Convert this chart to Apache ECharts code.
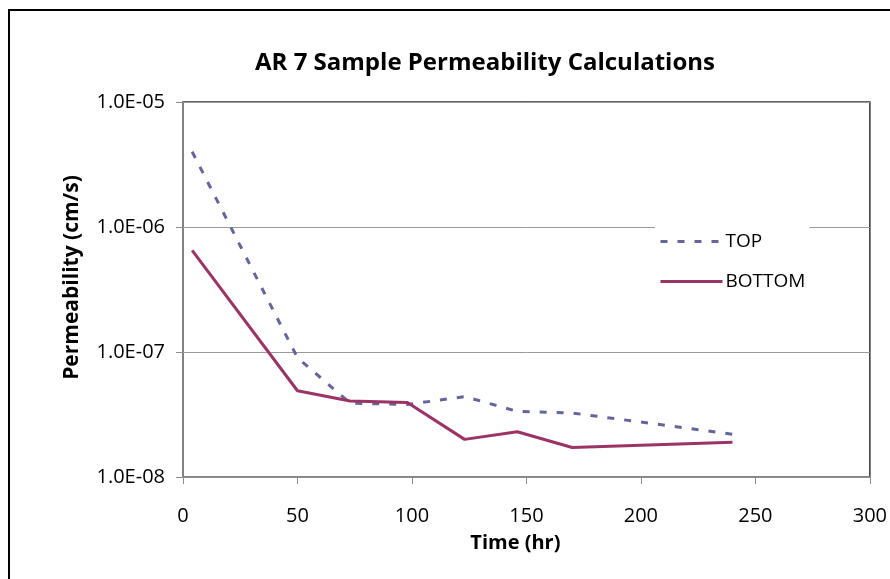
<!DOCTYPE html>
<html>
<head>
<meta charset="utf-8">
<script src="https://cdn.jsdelivr.net/npm/echarts@6/dist/echarts.min.js"></script>
<style>
  html, body { margin: 0; padding: 0; background: #fff; }
  #chart { width: 890px; height: 579px; }
</style>
</head>
<body>
<div id="chart"></div>
<script>
// time (hr) of each reading
const times = [4, 50, 73, 98, 123, 146, 170, 240]
// permeability (cm/s)
const topValues = [4.0e-6, 9.0e-8, 3.9e-8, 3.8e-8, 4.4e-8, 3.35e-8, 3.25e-8, 2.2e-8]
const bottomValues = [6.5e-7, 4.9e-8, 4.05e-8, 3.95e-8, 2.0e-8, 2.3e-8, 1.72e-8, 1.9e-8]

const FONT = '"Open Sans", "Liberation Sans", sans-serif'
const TOP_COLOR = '#65659c'
const BOTTOM_COLOR = '#9b3365'

const fmtSci = v => {
  const [m, e] = v.toExponential(1).split('e')
  const n = parseInt(e, 10)
  const s = n < 0 ? '-' : '+'
  return m + 'E' + s + String(Math.abs(n)).padStart(2, '0')
}

const chart = echarts.init(document.getElementById('chart'))
chart.setOption({
  animation: false,
  backgroundColor: '#fff',
  title: {
    text: 'AR 7 Sample Permeability Calculations',
    left: 480,
    textAlign: 'center',
    top: 46,
    textStyle: { fontFamily: FONT, fontSize: 24, fontWeight: 'bold', color: '#000' }
  },
  graphic: [{
    type: 'rect',
    shape: { x: 9, y: 10, width: 900, height: 600 },
    style: { fill: 'none', stroke: '#000', lineWidth: 2 },
    silent: true,
    z: 100
  }],
  grid: {
    left: 183, right: 13, top: 102, bottom: 102,
    show: true,
    borderColor: '#333',
    borderWidth: 1.5
  },
  legend: {
    orient: 'vertical',
    left: 655,
    top: 220,
    itemWidth: 62,
    itemHeight: 10,
    itemGap: 21,
    backgroundColor: '#fff',
    padding: [12, 4, 12, 4],
    itemStyle: { opacity: 0 },
    textStyle: { fontFamily: FONT, fontSize: 19, color: '#000', padding: [0, 0, 0, -2] },
    data: [
      { name: 'TOP', lineStyle: { color: TOP_COLOR, width: 3, type: [7, 10] } },
      { name: 'BOTTOM', lineStyle: { color: BOTTOM_COLOR, width: 3 } }
    ]
  },
  xAxis: {
    type: 'value',
    min: 0,
    max: 300,
    interval: 50,
    name: 'Time (hr)',
    nameLocation: 'middle',
    nameGap: 56,
    nameTextStyle: { fontFamily: FONT, fontSize: 20, fontWeight: 'bold', color: '#000', padding: [0, 22, 0, 0] },
    axisLine: { lineStyle: { color: '#8c8c8c', width: 1.5 } },
    axisTick: { show: true, inside: false, length: 7, lineStyle: { color: '#8c8c8c' } },
    axisLabel: { margin: 29, fontFamily: FONT, fontSize: 20, color: '#000' },
    splitLine: { show: false }
  },
  yAxis: {
    type: 'log',
    logBase: 10,
    min: 1e-8,
    max: 1e-5,
    name: 'Permeability (cm/s)',
    nameLocation: 'middle',
    nameGap: 100,
    nameTextStyle: { fontFamily: FONT, fontSize: 21, fontWeight: 'bold', color: '#000', padding: [0, 0, 0, 24] },
    axisLine: { lineStyle: { color: '#8c8c8c', width: 1.5 } },
    axisTick: { show: true, inside: false, length: 7, lineStyle: { color: '#8c8c8c' } },
    axisLabel: { margin: 18, fontFamily: FONT, fontSize: 20, color: '#000', formatter: fmtSci },
    minorTick: { show: false },
    splitLine: { show: true, lineStyle: { color: '#9a9a9a', width: 1 } }
  },
  series: [
    {
      name: 'TOP',
      type: 'line',
      symbol: 'none',
      data: times.map((t, i) => [t, topValues[i]]),
      lineStyle: { color: TOP_COLOR, width: 3, type: [7, 10] },
      itemStyle: { color: TOP_COLOR },
      z: 3
    },
    {
      name: 'BOTTOM',
      type: 'line',
      symbol: 'none',
      data: times.map((t, i) => [t, bottomValues[i]]),
      lineStyle: { color: BOTTOM_COLOR, width: 3 },
      itemStyle: { color: BOTTOM_COLOR },
      z: 4
    }
  ]
})
</script>
</body>
</html>
